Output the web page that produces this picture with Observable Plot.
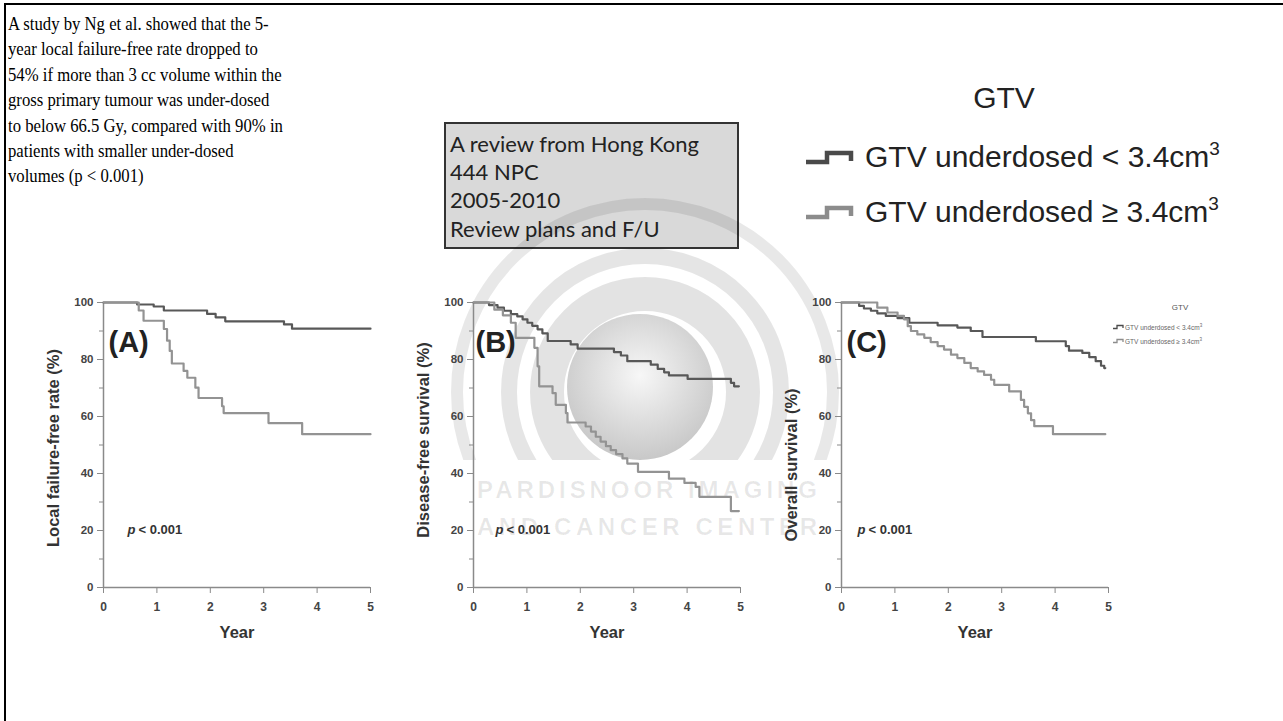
<!DOCTYPE html>
<html>
<head>
<meta charset="utf-8">
<script src="https://cdn.jsdelivr.net/npm/d3@7"></script>
<script src="https://cdn.jsdelivr.net/npm/@observablehq/plot@0.6"></script>
<style>
html,body{margin:0;padding:0;background:#fff;}
#root{position:relative;width:1283px;height:721px;overflow:hidden;background:#fff;}
.panel{position:absolute;}
</style>
</head>
<body>
<div id="root"></div>
<script>
// ---------- text content ----------
const noteLines = [
  "A study by Ng et al. showed that the 5-",
  "year local failure-free rate dropped to",
  "54% if more than 3 cc volume within the",
  "gross primary tumour was under-dosed",
  "to below 66.5 Gy, compared with 90% in",
  "patients with smaller under-dosed",
  "volumes (p < 0.001)"
];
const boxLines = ["A review from Hong Kong", "444 NPC", "2005-2010", "Review plans and F/U"];
const legendTitle = "GTV";
const groupLabels = ["GTV underdosed < 3.4cm", "GTV underdosed \u2265 3.4cm"];
const unitSup = "3";
const watermarkLines = ["PARDISNOOR IMAGING", "AND CANCER CENTER"];
const panelIds = ["(A)", "(B)", "(C)"];
const panelLabels = ["Local failure-free rate (%)", "Disease-free survival (%)", "Overall survival (%)"];
const xLabel = "Year";
const pItalic = "p";
const pRest = "< 0.001";
const xTicks = [0, 1, 2, 3, 4, 5];
const yTicks = [0, 20, 40, 60, 80, 100];
const yMinorTicks = [10, 30, 50, 70, 90];

// ---------- survival curves (year, %) ----------
const aLowYears = [0, 0.63, 0.94, 1.13, 1.94, 2.10, 2.28, 3.38, 3.53, 5.0];
const aLowPct   = [100, 99.3, 98.6, 97.2, 96.0, 94.8, 93.4, 92.3, 90.8, 90.8];
const aHighYears = [0, 0.66, 0.75, 1.13, 1.19, 1.24, 1.28, 1.50, 1.57, 1.72, 1.78, 2.22, 2.25, 3.09, 3.72, 5.0];
const aHighPct   = [100, 97.2, 93.6, 90.7, 86.6, 83.0, 78.6, 76.0, 73.6, 70.1, 66.5, 63.6, 61.2, 57.7, 53.8, 53.8];

const bLowYears = [0, 0.29, 0.45, 0.57, 0.70, 0.82, 0.92, 1.01, 1.10, 1.20, 1.29, 1.39, 1.82, 1.95, 2.63, 2.76, 2.88, 3.32, 3.45, 3.57, 3.66, 4.01, 4.82, 4.88, 4.97];
const bLowPct   = [100, 99.1, 98.2, 97.1, 95.9, 95.1, 94.1, 92.9, 91.8, 90.6, 89.2, 86.5, 85.3, 83.8, 82.6, 81.4, 79.4, 78.2, 76.7, 75.5, 74.4, 73.2, 71.8, 70.6, 70.6];
const bHighYears = [0, 0.39, 0.55, 0.70, 0.79, 1.14, 1.20, 1.23, 1.48, 1.54, 1.73, 1.76, 2.10, 2.20, 2.29, 2.38, 2.48, 2.57, 2.67, 2.79, 2.88, 3.08, 3.66, 3.95, 4.16, 4.23, 4.82, 4.97];
const bHighPct   = [100, 97.5, 95.5, 92.9, 87.6, 84.1, 77.6, 70.6, 68.2, 64.1, 61.2, 57.9, 56.5, 54.7, 52.9, 51.2, 49.6, 48.2, 46.8, 45.3, 43.5, 40.6, 38.2, 36.7, 35.3, 31.8, 26.8, 26.8];

const cLowYears = [0, 0.33, 0.42, 0.55, 0.67, 0.83, 1.05, 1.27, 1.80, 2.17, 2.42, 2.64, 3.64, 4.20, 4.26, 4.51, 4.64, 4.76, 4.86, 4.92, 4.94];
const cLowPct   = [100, 98.8, 97.9, 97.1, 96.2, 95.3, 94.5, 92.9, 92.0, 91.2, 90.0, 87.9, 86.4, 84.7, 83.1, 82.3, 80.8, 79.4, 77.8, 77.0, 77.0];
const cHighYears = [0, 0.67, 0.86, 1.05, 1.17, 1.24, 1.30, 1.42, 1.55, 1.67, 1.80, 1.92, 2.05, 2.17, 2.30, 2.42, 2.55, 2.67, 2.80, 2.86, 3.14, 3.36, 3.42, 3.49, 3.55, 3.61, 3.96, 4.94];
const cHighPct   = [100, 98.2, 96.5, 95.3, 94.1, 91.7, 90.0, 88.8, 87.6, 86.1, 84.7, 83.5, 81.7, 80.5, 78.8, 77.0, 75.8, 74.6, 72.9, 71.1, 68.8, 65.8, 63.4, 61.1, 58.7, 56.6, 53.8, 53.8];

// ---------- styling ----------
const lineColors = ["#585858", "#939393"];
const axisColor = "#8a8a8a";
const sans = "'Liberation Sans', Arial, sans-serif";

const root = d3.select("#root");

// ---------- background overlay (text, legend, watermark) ----------
const ov = root.append("svg")
  .attr("width", 1283).attr("height", 721)
  .style("position", "absolute").style("left", "0px").style("top", "0px");

const defs = ov.append("defs");
const grad = defs.append("radialGradient").attr("id", "sph").attr("cx", "50%").attr("cy", "42%").attr("r", "58%");
grad.append("stop").attr("offset", "0%").attr("stop-color", "#f7f7f7");
grad.append("stop").attr("offset", "100%").attr("stop-color", "#c8c8c8");
defs.append("clipPath").attr("id", "wmclip").append("rect").attr("x", 0).attr("y", 0).attr("width", 1283).attr("height", 460);

// frame
ov.append("line").attr("x1", 5).attr("x2", 5).attr("y1", 3).attr("y2", 721).attr("stroke", "#000").attr("stroke-width", 2);
ov.append("line").attr("x1", 4).attr("x2", 1283).attr("y1", 4).attr("y2", 4).attr("stroke", "#000").attr("stroke-width", 2);

// note text (top-left)
const note = ov.append("g").attr("transform", "translate(8,0) scale(0.88,1)");
noteLines.forEach((s, i) => {
  note.append("text").attr("x", 0).attr("y", 30 + i * 25.4)
    .attr("font-family", "'Liberation Serif', 'Times New Roman', serif")
    .attr("font-size", 19).attr("fill", "#000").text(s);
});

// grey box
ov.append("rect").attr("x", 445).attr("y", 123).attr("width", 293).attr("height", 125)
  .attr("fill", "#d9d9d9").attr("stroke", "#333").attr("stroke-width", 2);
boxLines.forEach((s, i) => {
  ov.append("text").attr("x", 450).attr("y", 151.7 + i * 28.3)
    .attr("font-family", "Lato, 'Open Sans', sans-serif").attr("font-size", 22)
    .attr("fill", "#222").text(s);
});

// watermark
const wm = ov.append("g");
const rings = wm.append("g").attr("clip-path", "url(#wmclip)");
[[98, 34, 0.11], [136, 16, 0.1], [188, 12, 0.09]].forEach(([r, w, o]) => {
  rings.append("circle").attr("cx", 645).attr("cy", 392).attr("r", r)
    .attr("fill", "none").attr("stroke", "#000").attr("stroke-opacity", o).attr("stroke-width", w);
});
wm.append("circle").attr("cx", 640).attr("cy", 387).attr("r", 73).attr("fill", "url(#sph)");
watermarkLines.forEach((s, i) => {
  wm.append("text").attr("x", 477).attr("y", 498 + i * 37)
    .attr("font-family", sans).attr("font-weight", "bold").attr("font-size", 24)
    .attr("textLength", 340).attr("lengthAdjust", "spacing")
    .attr("fill", "#000").attr("fill-opacity", 0.09).text(s);
});

// big legend
ov.append("text").attr("x", 1004).attr("y", 108).attr("text-anchor", "middle")
  .attr("font-family", sans).attr("font-size", 30).attr("fill", "#222").text(legendTitle);
groupLabels.forEach((s, i) => {
  const b = 167 + i * 55;
  ov.append("path").attr("d", `M806,${b - 5}H827V${b - 14}H851V${b - 6}`)
    .attr("fill", "none").attr("stroke", i === 0 ? "#4a4a4a" : "#8c8c8c").attr("stroke-width", 4.5);
  const t = ov.append("text").attr("x", 865).attr("y", b)
    .attr("font-family", sans).attr("font-size", 30).attr("fill", "#222");
  t.append("tspan").text(s);
  t.append("tspan").attr("dy", -12).attr("font-size", 19).text(unitSup);
});

// small legend inside panel C
ov.append("text").attr("x", 1180).attr("y", 310).attr("text-anchor", "middle")
  .attr("font-family", sans).attr("font-size", 8).attr("fill", "#555").text(legendTitle);
groupLabels.forEach((s, i) => {
  const b = 330 + i * 14;
  ov.append("path").attr("d", `M1113,${b - 1.5}H1117V${b - 4.5}H1123V${b - 2}`)
    .attr("fill", "none").attr("stroke", i === 0 ? "#4a4a4a" : "#8c8c8c").attr("stroke-width", 1.3);
  const t = ov.append("text").attr("x", 1125).attr("y", b)
    .attr("font-family", sans).attr("font-size", 6.5).attr("fill", "#666");
  t.append("tspan").text(s);
  t.append("tspan").attr("dy", -3).attr("font-size", 4.5).text(unitSup);
});

// ---------- panels ----------
const panelLefts = [30, 400, 768];
const yLabelShift = [3, -5, 20];
const idDx = [5, 2, 5];
const pDx = [24, 22, 16];

function makePanel(k, lowYears, lowPct, highYears, highPct) {
  const rows = [];
  lowYears.forEach((t, i) => rows.push({group: groupLabels[0], year: t, pct: lowPct[i]}));
  highYears.forEach((t, i) => rows.push({group: groupLabels[1], year: t, pct: highPct[i]}));
  const chart = Plot.plot({
    width: 370, height: 360,
    marginLeft: 73, marginRight: 30, marginTop: 12, marginBottom: 63,
    x: {domain: [0, 5]},
    y: {domain: [0, 100]},
    color: {domain: groupLabels, range: lineColors},
    style: {background: "transparent", fontFamily: sans, overflow: "visible"},
    marks: [
      Plot.ruleX([0], {y1: 0, y2: 100, stroke: axisColor, strokeWidth: 1.5}),
      Plot.ruleY([0], {x1: 0, x2: 5, stroke: axisColor, strokeWidth: 1.5}),
      Plot.axisY({ticks: yTicks, tickSize: 6, tickPadding: 4, tickFormat: d3.format("d"), label: null, stroke: axisColor, fill: "#444", fontSize: 11.5, fontWeight: "bold"}),
      Plot.axisY({ticks: yMinorTicks, tickSize: 4, tickFormat: () => "", label: null, stroke: axisColor}),
      Plot.axisX({ticks: xTicks, tickSize: 6, tickPadding: 9, tickFormat: d3.format("d"), label: null, stroke: axisColor, fill: "#444", fontSize: 12, fontWeight: "bold"}),
      Plot.line(rows, {x: "year", y: "pct", z: "group", stroke: "group", curve: "step-after", strokeWidth: 2.2}),
      Plot.text([panelLabels[k]], {text: d => d, frameAnchor: "left", textAnchor: "middle", rotate: -90, dx: -50, dy: yLabelShift[k], fontSize: 16.5, fontWeight: "bold", fill: "#333"}),
      Plot.text([xLabel], {text: d => d, frameAnchor: "bottom", lineAnchor: "middle", dy: 45, fontSize: 16.5, fontWeight: "bold", fill: "#333"}),
      Plot.text([panelIds[k]], {text: d => d, frameAnchor: "top-left", textAnchor: "start", lineAnchor: "bottom", dx: idDx[k], dy: 49, fontSize: 29, fontWeight: "bold", fill: "#222"}),
      Plot.text([pItalic], {text: d => d, frameAnchor: "top-left", textAnchor: "start", lineAnchor: "bottom", dx: pDx[k], dy: 231, fontSize: 13, fontWeight: "bold", fontStyle: "italic", fill: "#333"}),
      Plot.text([pRest], {text: d => d, frameAnchor: "top-left", textAnchor: "start", lineAnchor: "bottom", dx: pDx[k] + 11, dy: 231, fontSize: 13, fontWeight: "bold", fill: "#333"})
    ]
  });
  const div = root.append("div").attr("class", "panel")
    .style("left", panelLefts[k] + "px").style("top", "290px");
  div.node().appendChild(chart);
}

makePanel(0, aLowYears, aLowPct, aHighYears, aHighPct);
makePanel(1, bLowYears, bLowPct, bHighYears, bHighPct);
makePanel(2, cLowYears, cLowPct, cHighYears, cHighPct);
</script>
</body>
</html>
